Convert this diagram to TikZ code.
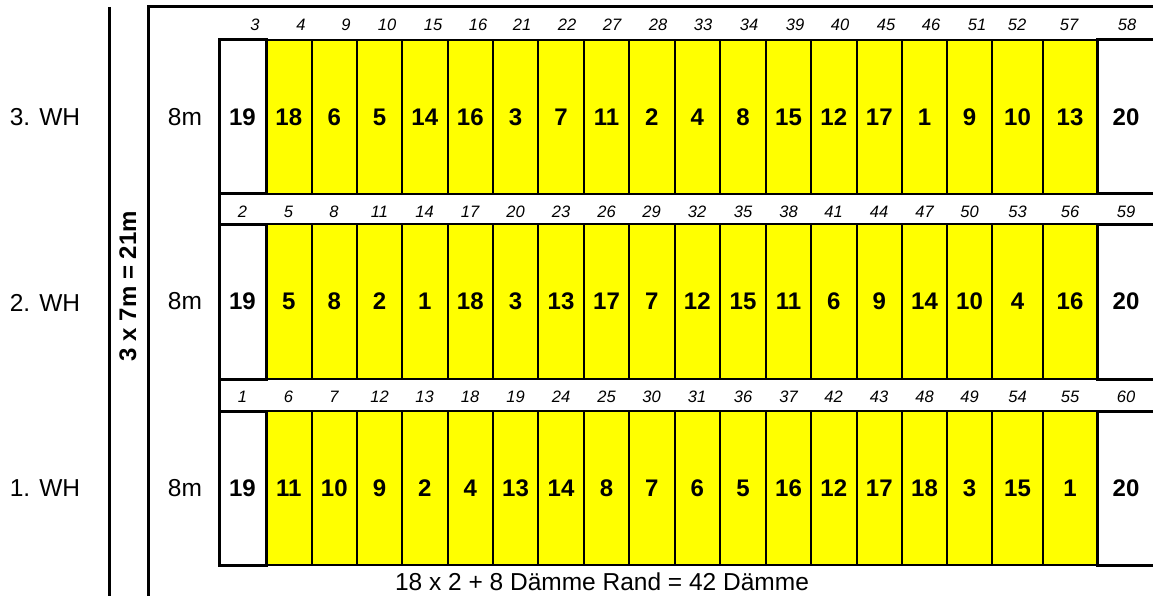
\documentclass[tikz,border=0pt]{standalone}
\usepackage{fontspec}
\setmainfont{Liberation Sans}
\definecolor{cellyellow}{RGB}{255,255,0}
\def\bnds{{219,266,311.5,357,402,447.5,493,538,584,629,674.5,720,766,811,856.5,902,947,992,1043,1097,1153}}
\newcommand\wmrow[6]{%
  \pgfmathsetmacro\yc{(#2+#3)/2}%
  \pgfmathsetmacro\hh{#3-#2}%
  \foreach \n [count=\i] in {#5} {%
    \pgfmathsetmacro\xa{\bnds[\i]}%
    \pgfmathsetmacro\xb{\bnds[\i+1]}%
    \pgfmathsetmacro\xc{(\xa+\xb)/2}%
    \pgfmathsetmacro\ww{\xb-\xa}%
    \node[ycell, minimum width=\ww pt, minimum height=\hh pt] (r#1c\i) at (\xc,\yc) {\n};
  }
  \node[wcell, minimum width=47pt, minimum height=\hh pt] (r#1L) at (242.5,\yc) {19};
  \node[bnum] (r#1R) at (1126,\yc) {20};
  \draw[frame] (1160,#2) -- (1097,#2) -- (1097,#3) -- (1160,#3);
  \draw[rowline] (219,#2) -- (1160,#2);
  \draw[rowline] (219,#3) -- (1160,#3);
  \foreach \lx/\lt [count=\j] in {#6} {\node[num] (r#1l\j) at (\lx,#4) {\lt};}
  \node[lbl] (r#1m) at (185,\yc) {8m};
}
\begin{document}
\begin{tikzpicture}[x=1pt,y=-1pt,
  ycell/.style={draw, fill=cellyellow, line width=2pt, inner sep=0pt, outer sep=0pt, font=\fontsize{24}{28}\selectfont\bfseries},
  wcell/.style={draw, fill=white, line width=3pt, inner sep=0pt, outer sep=0pt, font=\fontsize{24}{28}\selectfont\bfseries},
  bnum/.style={inner sep=0pt, font=\fontsize{24}{28}\selectfont\bfseries},
  num/.style={inner sep=0pt, font=\fontsize{16.5}{20}\selectfont\itshape},
  lbl/.style={inner sep=0pt, font=\fontsize{24.5}{28}\selectfont},
  frame/.style={line width=3pt, line join=miter},
  rowline/.style={line width=2.7pt}]
\useasboundingbox (0,0) rectangle (1153,596);
\clip (0,0) rectangle (1153,596);
\fill[white] (0,0) rectangle (1153,596);
% frame
\draw[frame] (109,7) -- (109,600);
\draw[frame] (1160,7) -- (148,7) -- (148,600);
% rows
\wmrow{3}{40}{194}{25}{18,6,5,14,16,3,7,11,2,4,8,15,12,17,1,9,10,13}%
  {255/3,301/4,346/9,387/10,433/15,478/16,522/21,567/22,612/27,658/28,703/33,749/34,795/39,840/40,886/45,931/46,977/51,1017/52,1069/57,1127/58}
\wmrow{2}{224}{379}{212}{5,8,2,1,18,3,13,17,7,12,15,11,6,9,14,10,4,16}%
  {242.5/2,288.5/5,334/8,379.5/11,424.5/14,470/17,515.5/20,561/23,606.5/26,651.5/29,697/32,743/35,788.5/38,833.5/41,879/44,924.5/47,969.5/50,1017.5/53,1070/56,1126/59}
\wmrow{1}{411}{565}{397}{11,10,9,2,4,13,14,8,7,6,5,16,12,17,18,3,15,1}%
  {242.5/1,288.5/6,334/7,379.5/12,424.5/13,470/18,515.5/19,561/24,606.5/25,651.5/30,697/31,743/36,788.5/37,833.5/42,879/43,924.5/48,969.5/49,1017.5/54,1070/55,1126/60}
\draw[frame] (219,40) -- (219,565);
% left labels
\node[lbl] (wh3) at (45,117) {3. WH};
\node[lbl] (wh2) at (45,303) {2. WH};
\node[lbl] (wh1) at (45,488) {1. WH};
\node[bnum, rotate=90] (dim) at (128,286) {3 x 7m = 21m};
\node[lbl] (sum) at (602,582) {18 x 2 + 8 Dämme Rand = 42 Dämme};
\end{tikzpicture}
\end{document}
